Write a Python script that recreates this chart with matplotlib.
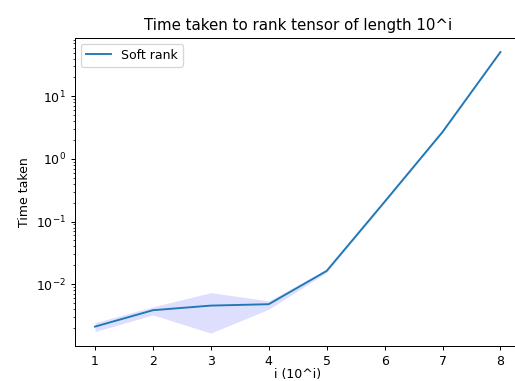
import matplotlib
matplotlib.use("Agg")
import matplotlib.pyplot as plt
import numpy as np

# lengths 10^i and timing stats
exponents = [1, 2, 3, 4, 5, 6, 7, 8]
mean_time = [0.0021, 0.00384, 0.00455, 0.00479, 0.0163, 0.207, 2.7, 51.0]
upper_time = [0.00243, 0.00434, 0.00734, 0.0054, 0.0172, 0.215, 2.8, 52.0]
lower_time = [0.00175, 0.00323, 0.00166, 0.00398, 0.0154, 0.198, 2.6, 50.0]

DPI = 90
W, H = 515, 381
fig = plt.figure(figsize=(W / DPI, H / DPI), dpi=DPI)
ax = fig.add_axes([74.7 / W, (H - 346) / H, 446 / W, (346 - 37.5) / H])

ax.plot(exponents, mean_time, color="#1f77b4", label="Soft rank")
ax.fill_between(exponents, lower_time, upper_time, color="b", alpha=0.13, linewidth=0)

ax.set_yscale("log")
ax.set_xlim(0.65, 8.35)
ax.set_ylim(1.03e-3, 87)
ax.set_title("Time taken to rank tensor of length 10^i")
ax.set_xlabel("i (10^i)", labelpad=0.5)
ax.set_ylabel("Time taken")
ax.legend(loc="upper left")

fig.savefig("out.png", dpi=DPI)
